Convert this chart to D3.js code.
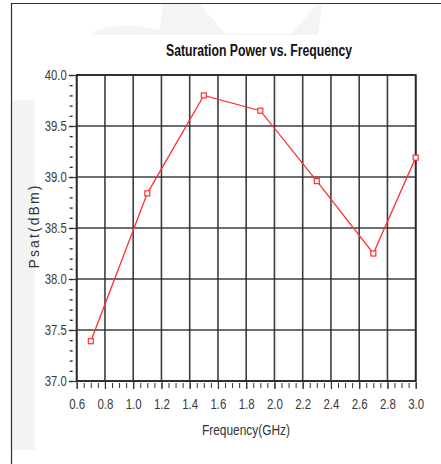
<!DOCTYPE html>
<html><head><meta charset="utf-8">
<script src="https://cdn.jsdelivr.net/npm/d3@7"></script>
<style>
html,body{margin:0;padding:0;background:#fff;}
svg{display:block;}
</style></head>
<body>
<script>
const freqs = [0.7, 1.1, 1.5, 1.9, 2.3, 2.7, 3.0];
const psat = [37.39, 38.84, 39.80, 39.65, 38.96, 38.25, 39.19];
const xTicks = [0.6,0.8,1.0,1.2,1.4,1.6,1.8,2.0,2.2,2.4,2.6,2.8,3.0];
const yTicks = [37.0,37.5,38.0,38.5,39.0,39.5,40.0];
const title = "Saturation Power vs. Frequency";
const xTitle = "Frequency(GHz)";
const yTitle = "Psat(dBm)";

const W = 441, H = 464;
const svg = d3.select("body").append("svg").attr("width", W).attr("height", H);

// faint background watermark shapes
svg.append("rect").attr("x",12).attr("y",100).attr("width",23).attr("height",350).attr("fill","#f3f3f3");
svg.append("path").attr("d","M90,35 Q100,24 140,26 L160,30 L163,4 L200,4 L225,34 L290,34 L318,4 L322,4 L318,35 Z").attr("fill","#f4f4f4");

// frame
svg.append("path").attr("d","M11.5,464 L11.5,3.5 L441,3.5").attr("fill","none").attr("stroke","#333").attr("stroke-width",1.2);

const x = d3.scaleLinear().domain([0.6,3.0]).range([76.7,415.7]);
const y = d3.scaleLinear().domain([37,40]).range([381,75]);

const font = "'Liberation Sans',Arial,sans-serif";

// grid
const g = svg.append("g");
g.selectAll("line.vg").data(xTicks).join("line").attr("class","vg")
  .attr("x1",d=>x(d)).attr("x2",d=>x(d)).attr("y1",y(37)).attr("y2",y(40))
  .attr("stroke","#2a2a2a").attr("stroke-width",1.6).attr("stroke-opacity",0.9);
g.selectAll("line.hg").data(yTicks).join("line").attr("class","hg")
  .attr("x1",x(0.6)).attr("x2",x(3.0)).attr("y1",d=>y(d)).attr("y2",d=>y(d))
  .attr("stroke","#2a2a2a").attr("stroke-width",1.6).attr("stroke-opacity",0.9);
g.append("rect").attr("x",x(0.6)).attr("y",y(40)).attr("width",x(3.0)-x(0.6)).attr("height",y(37)-y(40))
  .attr("fill","none").attr("stroke","#2a2a2a").attr("stroke-width",1.8);

// x axis
const xMinor = d3.range(0.6, 3.0001, 0.05).map(v=>+v.toFixed(2));
const xAxis = d3.axisBottom(x).tickValues(xMinor).tickSize(5).tickFormat("");
const xa = svg.append("g").attr("transform",`translate(0,${y(37)+2})`).call(xAxis);
xa.select(".domain").remove();
xa.selectAll(".tick line").attr("stroke","#333").attr("stroke-width",1);
const xMaj = d3.axisBottom(x).tickValues(xTicks).tickSize(7).tickFormat(d3.format(".1f"));
const xb = svg.append("g").attr("transform",`translate(0,${y(37)+1})`).call(xMaj);
xb.select(".domain").remove();
xb.selectAll(".tick line").attr("stroke","#333").attr("stroke-width",1.2);
xb.selectAll(".tick text").attr("y",17).attr("dy","0.71em").attr("fill","#3a3a3a")
  .attr("font-family",font).attr("font-size",14)
  .attr("textLength",16).attr("lengthAdjust","spacingAndGlyphs");

// y axis
const yMinor = d3.range(37, 40.0001, 0.1).map(v=>+v.toFixed(1));
const yAxis = d3.axisLeft(y).tickValues(yMinor).tickSize(3).tickFormat("");
const ya = svg.append("g").attr("transform",`translate(${x(0.6)-4},0)`).call(yAxis);
ya.select(".domain").remove();
ya.selectAll(".tick line").attr("stroke","#333").attr("stroke-width",1.4);
const yMaj = d3.axisLeft(y).tickValues(yTicks).tickSize(8).tickFormat(d3.format(".1f"));
const yb = svg.append("g").attr("transform",`translate(${x(0.6)},0)`).call(yMaj);
yb.select(".domain").remove();
yb.selectAll(".tick line").attr("stroke","#333").attr("stroke-width",1.2);
yb.selectAll(".tick text").attr("x",-10).attr("fill","#3a3a3a")
  .attr("font-family",font).attr("font-size",14)
  .attr("textLength",22).attr("lengthAdjust","spacingAndGlyphs");

// line
const line = d3.line().x((d,i)=>x(freqs[i])).y(d=>y(d));
svg.append("path").datum(psat).attr("d",line).attr("fill","none")
  .attr("stroke","#ff3030").attr("stroke-width",1.3);
svg.selectAll("rect.mk").data(psat).join("rect").attr("class","mk")
  .attr("x",(d,i)=>x(freqs[i])-2.5).attr("y",d=>y(d)-2.5).attr("width",5).attr("height",5)
  .attr("fill","#fff").attr("stroke","#ff3030").attr("stroke-width",1.2);

// titles
svg.append("text").attr("x",259).attr("y",56).attr("text-anchor","middle")
  .attr("font-family",font).attr("font-weight","bold").attr("font-size",16)
  .attr("textLength",186).attr("lengthAdjust","spacingAndGlyphs")
  .attr("fill","#111").text(title);
svg.append("text").attr("x",246).attr("y",435).attr("text-anchor","middle")
  .attr("font-family",font).attr("font-size",14).attr("fill","#333")
  .attr("textLength",88).attr("lengthAdjust","spacingAndGlyphs").text(xTitle);
svg.append("text").attr("transform","translate(39,227) rotate(-90)").attr("text-anchor","middle")
  .attr("font-family",font).attr("font-size",14)
  .attr("textLength",83).attr("lengthAdjust","spacing")
  .attr("fill","#333").text(yTitle);
</script>
</body></html>
